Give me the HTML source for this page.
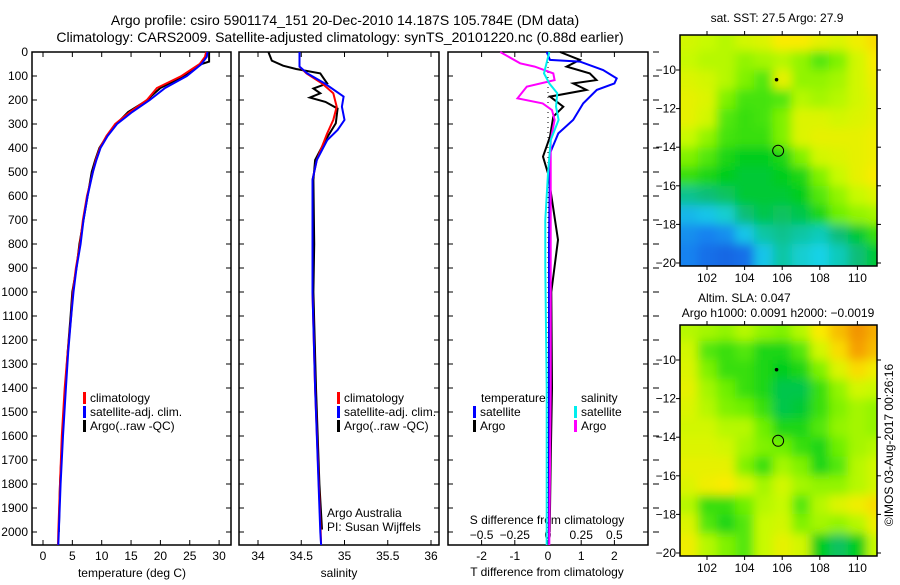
<!DOCTYPE html>
<html><head><meta charset="utf-8"><style>
body{margin:0;background:#fff;width:900px;height:580px;overflow:hidden}
svg{font-family:"Liberation Sans",sans-serif;font-size:12px}
</style></head><body>
<svg id="fig" width="900" height="580">
<text x="345" y="25" text-anchor="middle" font-size="14">Argo profile: csiro 5901174_151 20-Dec-2010 14.187S 105.784E (DM data)</text>
<text x="340" y="42" text-anchor="middle" font-size="14">Climatology: CARS2009. Satellite-adjusted climatology: synTS_20101220.nc (0.88d earlier)</text>
<g id="g"></g>
</svg>
<script>
// depth axis
const depthTicks=[0,100,200,300,400,500,600,700,800,900,1000,1100,1200,1300,1400,1500,1600,1700,1800,1900,2000];
// temperature panel
const tTicks=[0,5,10,15,20,25,30];
const tClimD=[0,20,50,100,150,200,250,300,350,400,450,500,600,700,800,900,1000,1100,1250,1400,1600,1800,2000,2054];
const tClim=[27.8,27.6,26.7,23.6,19.4,17.7,14.8,12.3,10.8,9.7,9.0,8.5,7.5,6.8,6.3,5.6,5.1,4.8,4.2,3.7,3.2,2.9,2.6,2.55];
const tSatD=[0,20,50,100,150,200,250,300,350,400,450,500,600,700,800,900,1000,1100,1250,1400,1600,1800,2000,2054];
const tSat=[28,27.9,27,24.5,20.8,18.2,15.2,12.6,11.0,9.8,9.1,8.5,7.6,6.9,6.4,5.7,5.2,4.8,4.3,3.9,3.4,3.0,2.7,2.6];
const tArgD=[0,40,50,100,150,180,200,250,300,350,400,450,500,600,700,800,900,1000,1100,1250,1400,1600,1800,2000];
const tArg=[28.3,28.3,27,24,20,18.6,17.8,14.5,12.5,10.9,9.6,8.9,8.3,7.6,6.9,6.2,5.7,5.0,4.7,4.2,3.8,3.3,2.9,2.7];
// salinity panel
const sTicks=[34,34.5,35,35.5,36];
const sClimD=[0,61,89,131,172,228,283,339,394,450,533,1000,1400,2000,2054];
const sClim=[34.48,34.48,34.56,34.74,34.87,34.91,34.87,34.80,34.74,34.68,34.63,34.63,34.66,34.725,34.73];
const sSatD=[0,61,89,131,186,228,283,325,367,450,533,1000,1400,2000,2054];
const sSat=[34.48,34.48,34.57,34.77,34.99,34.97,35.0,34.92,34.80,34.68,34.63,34.63,34.66,34.72,34.73];
const sArgD=[0,36,57,71,89,110,131,152,172,190,208,236,297,367,450,533,800,1000,1400,1800,1990];
const sArg=[34.12,34.16,34.29,34.44,34.72,34.76,34.8,34.64,34.72,34.6,34.78,34.92,34.9,34.78,34.66,34.64,34.65,34.64,34.67,34.71,34.74];
// difference panel
const dtTicks=[-2,-1,0,1,2];
const dsTicks=[-0.5,-0.25,0,0.25,0.5];
const dTSatD=[0,33,40,75,110,131,158,214,283,339,422,800,1400,2054];
const dTSat=[-0.04,0.06,0.96,1.66,2.07,2.0,1.47,1.06,0.76,0.31,0.06,0.03,0.03,0.03];
const dTArgD=[0,33,61,89,117,131,158,186,228,269,353,436,506,783,1000,1400,1700,2000];
const dTArg=[0.36,0.96,0.56,1.26,1.46,0.76,1.16,0.06,0.46,0.16,0.06,-0.15,0.0,0.3,0.1,0.12,0.08,0.05];
const dSArgD=[0,47,61,89,117,144,193,214,242,283,367,1000,1400,2054];
const dSArg=[-0.36,-0.21,-0.1,0.04,0.05,-0.16,-0.23,-0.04,0.03,0.05,0.02,0.02,0.02,0.01];
const dSSatD=[0,89,131,172,228,283,367,506,700,900,1400,2054];
const dSSat=[0.01,-0.03,0.01,0.07,0.06,0.08,0.02,0.0,-0.02,-0.02,-0.01,-0.01];
// maps (value 0..1 colour index), rows top->bottom lat -8.5..-19.5, cols lon 101..111
const sstGrid=[
[.7,.68,.66,.7,.72,.78,.78,.74,.72,.76,.8],
[.68,.66,.66,.62,.64,.66,.62,.56,.6,.7,.78],
[.72,.7,.66,.6,.56,.74,.62,.62,.64,.7,.76],
[.74,.72,.6,.55,.55,.56,.66,.64,.66,.7,.74],
[.74,.7,.56,.54,.55,.6,.72,.72,.7,.72,.74],
[.68,.62,.55,.54,.54,.6,.72,.74,.74,.74,.76],
[.6,.56,.52,.5,.5,.52,.6,.7,.72,.74,.76],
[.54,.52,.5,.48,.48,.5,.52,.6,.68,.74,.78],
[.4,.42,.44,.48,.48,.48,.5,.56,.62,.68,.72],
[.28,.3,.34,.42,.46,.44,.46,.52,.58,.62,.64],
[.22,.2,.22,.3,.38,.4,.38,.36,.42,.48,.54],
[.2,.16,.14,.16,.3,.38,.34,.32,.36,.42,.48]];
const slaGrid=[
[.66,.64,.62,.66,.62,.6,.66,.78,.84,.9,.86],
[.7,.56,.54,.56,.52,.52,.56,.7,.8,.88,.84],
[.72,.6,.54,.54,.52,.5,.52,.6,.72,.8,.76],
[.74,.64,.58,.54,.52,.46,.46,.54,.62,.7,.68],
[.72,.66,.6,.58,.54,.46,.48,.54,.6,.64,.62],
[.7,.7,.66,.66,.58,.52,.52,.56,.62,.64,.62],
[.72,.72,.7,.64,.6,.58,.54,.52,.58,.64,.66],
[.74,.74,.74,.6,.54,.64,.6,.52,.56,.66,.7],
[.72,.76,.78,.72,.64,.7,.64,.62,.62,.66,.7],
[.66,.54,.54,.58,.66,.68,.56,.66,.72,.76,.8],
[.72,.56,.52,.56,.68,.7,.6,.64,.62,.66,.76],
[.76,.66,.6,.56,.68,.74,.7,.5,.44,.5,.68]];
const lonTicks=[102,104,106,108,110];
const latTicks=[-10,-12,-14,-16,-18,-20];

const NS='http://www.w3.org/2000/svg';
const G=document.getElementById('g');
function mk(tag,attrs,parent){const e=document.createElementNS(NS,tag);for(const k in attrs)e.setAttribute(k,attrs[k]);(parent||G).appendChild(e);return e;}
function tx(x,y,s,anchor,parent){const e=mk('text',{x:x,y:y,'text-anchor':anchor||'middle'},parent);e.textContent=s;return e;}
const TOP=52, BOT=545;
const yD=d=>TOP+d*0.24;

function panel(name,x0,x1){
  const r=mk('rect',{x:x0,y:TOP,width:x1-x0,height:BOT-TOP,fill:'none',stroke:'#000','stroke-width':1.5});
  
  
  depthTicks.forEach(d=>{mk('line',{x1:x0,x2:x0+5,y1:yD(d),y2:yD(d),stroke:'#000'});mk('line',{x1:x1,x2:x1-5,y1:yD(d),y2:yD(d),stroke:'#000'});});
}
function line(name,ds,vs,fx,color,w){
  const p=ds.map((d,i)=>fx(vs[i]).toFixed(1)+','+yD(d).toFixed(1)).join(' ');
  const e=mk('polyline',{points:p,fill:'none',stroke:color,'stroke-width':w||2});
  
  
}
// panel 1
const xT=v=>43+v*5.87;
panel('temperature-panel',32,231);
depthTicks.forEach(d=>{const t=tx(28,yD(d)+4,String(d),'end');});
tTicks.forEach(v=>{mk('line',{x1:xT(v),x2:xT(v),y1:BOT,y2:BOT-5,stroke:'#000'});mk('line',{x1:xT(v),x2:xT(v),y1:TOP,y2:TOP+5,stroke:'#000'});tx(xT(v),560,String(v));});
line('temp-argo-line',tArgD,tArg,xT,'#000',2);
line('temp-climatology-line',tClimD,tClim,xT,'#f00',2);
line('temp-satellite-line',tSatD,tSat,xT,'#00f',2);
tx(132,577,'temperature (deg C)');
// panel 2
const xS=v=>258+(v-34)*86.5;
panel('salinity-panel',239,439);
sTicks.forEach(v=>{mk('line',{x1:xS(v),x2:xS(v),y1:BOT,y2:BOT-5,stroke:'#000'});mk('line',{x1:xS(v),x2:xS(v),y1:TOP,y2:TOP+5,stroke:'#000'});tx(xS(v),560,String(v));});
line('sal-argo-line',sArgD,sArg,xS,'#000',2);
line('sal-climatology-line',sClimD,sClim,xS,'#f00',2);
line('sal-satellite-line',sSatD,sSat,xS,'#00f',2);
tx(339,577,'salinity');
tx(327,517,'Argo Australia','start');tx(327,531,'PI: Susan Wijffels','start');
// legends
function legend(x,y,items){items.forEach((it,i)=>{mk('rect',{x:x,y:y+i*14-10,width:3,height:12,fill:it[1]});const t=tx(x+7,y+i*14,it[0],'start');});}
legend(83,402,[['climatology','#f00'],['satellite-adj. clim.','#00f'],['Argo(..raw -QC)','#000']]);
legend(337,402,[['climatology','#f00'],['satellite-adj. clim.','#00f'],['Argo(..raw -QC)','#000']]);
// panel 3
const xDT=v=>548+v*33.2;
const xDS=v=>548+v*132.8;
panel('difference-panel',448,648);
mk('line',{x1:548,x2:548,y1:TOP,y2:BOT,stroke:'#000','stroke-dasharray':'1,4'});
depthTicks.forEach(d=>mk('line',{x1:653,x2:659,y1:yD(d),y2:yD(d),stroke:'#000'}));
dtTicks.forEach(v=>{mk('line',{x1:xDT(v),x2:xDT(v),y1:BOT,y2:BOT-5,stroke:'#000'});tx(xDT(v),560,String(v));});
dsTicks.forEach(v=>{mk('line',{x1:xDS(v),x2:xDS(v),y1:TOP,y2:TOP+5,stroke:'#000'});tx(xDS(v),539,String(v).replace('-','−'));});
tx(547,524,'S difference from climatology');
tx(547,576,'T difference from climatology');
line('dT-argo-line',dTArgD,dTArg,xDT,'#000',2);
line('dT-satellite-line',dTSatD,dTSat,xDT,'#00f',2);
line('dS-argo-line',dSArgD,dSArg,xDS,'#f0f',2);
line('dS-satellite-line',dSSatD,dSSat,xDS,'#0ee',2);
tx(481,402,'temperature','start');tx(581,402,'salinity','start');
legend(473,416,[['satellite','#00f'],['Argo','#000']]);
legend(574,416,[['satellite','#0ee'],['Argo','#f0f']]);
// colormap
const cm=[[0,[20,40,200]],[0.2,[20,130,240]],[0.32,[20,210,230]],[0.42,[10,190,120]],[0.5,[0,205,30]],[0.58,[110,240,0]],[0.68,[200,250,0]],[0.78,[250,235,0]],[0.88,[245,160,0]],[1,[225,90,0]]];
function col(v){for(let i=1;i<cm.length;i++){if(v<=cm[i][0]){const a=cm[i-1],b=cm[i],t=(v-a[0])/(b[0]-a[0]);return 'rgb('+a[1].map((c,k)=>Math.round(c+(b[1][k]-c)*t)).join(',')+')';}}return 'rgb(225,90,0)';}
const defs=mk('defs',{});
const f=mk('filter',{id:'bl',x:'-10%',y:'-10%',width:'120%',height:'120%'},defs);
mk('feGaussianBlur',{stdDeviation:5},f);
function map(name,grid,top,bot){
  const L=680,R=877;
  const xL=lon=>707+(lon-102)*18.8;
  const yL=lat=>top+35+(-10-lat)*19.3;
  const cp=mk('clipPath',{id:'c'+name},defs);mk('rect',{x:L,y:top,width:R-L,height:bot-top},cp);
  const outer=mk('g',{'clip-path':'url(#c'+name+')'});
  
  
  const g=mk('g',{filter:'url(#bl)'},outer);
  grid.forEach((row,r)=>row.forEach((v,c)=>{const lon=101+c,lat=-8.5-r;
    const cell=mk('rect',{x:xL(lon-0.5)-(c==0?20:0),y:yL(lat+0.5)-(r==0?20:0),width:18.8+1+(c==0||c==10?20:0),height:19.3+1+(r==0||r==11?20:0),fill:col(v)},g);
    
    }));
  mk('rect',{x:L,y:top,width:R-L,height:bot-top,fill:'none',stroke:'#000','stroke-width':1.5});
  lonTicks.forEach(v=>{mk('line',{x1:xL(v),x2:xL(v),y1:top-4,y2:top,stroke:'#000'});mk('line',{x1:xL(v),x2:xL(v),y1:bot,y2:bot+4,stroke:'#000'});tx(xL(v),bot+16,String(v));});
  latTicks.forEach(v=>{mk('line',{x1:L,x2:L-4,y1:yL(v),y2:yL(v),stroke:'#000'});mk('line',{x1:R,x2:R+4,y1:yL(v),y2:yL(v),stroke:'#000'});tx(L-4,yL(v)+4,String(v).replace('-','−'),'end');});
  mk('circle',{cx:xL(105.784),cy:yL(-14.187),r:5.5,fill:'none',stroke:'#000'});
  mk('circle',{cx:xL(105.7),cy:yL(-10.5),r:1.8,fill:'#000'});
}
map('sst-map',sstGrid,35,266);
map('sla-map',slaGrid,325,556);
tx(777,22,'sat. SST: 27.5 Argo: 27.9');
tx(698,302,'Altim. SLA: 0.047','start');
tx(778,317,'Argo h1000: 0.0091 h2000: −0.0019');
const cr=tx(0,0,'©IMOS 03-Aug-2017 00:26:16');
cr.setAttribute('transform','translate(893,445) rotate(-90)');
</script>
</body></html>
